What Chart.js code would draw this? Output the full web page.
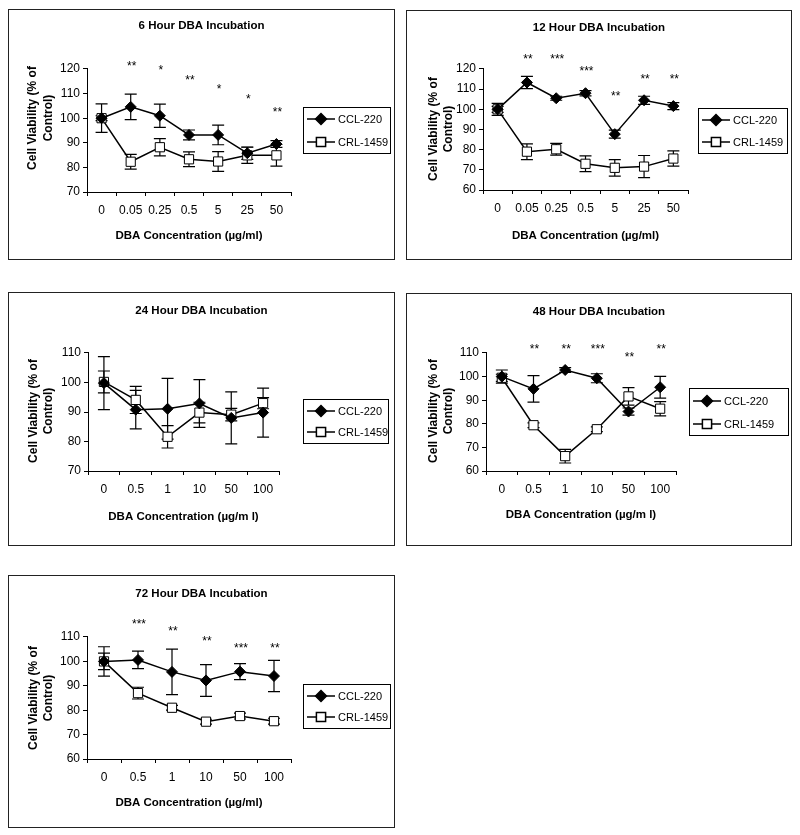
<!DOCTYPE html>
<html>
<head>
<meta charset="utf-8">
<script src="https://cdn.jsdelivr.net/npm/chart.js@4.4.0/dist/chart.umd.min.js"></script>
<style>
  body { margin: 0; background: #fff; width: 800px; height: 835px; position: relative; overflow: hidden; }
  .panel { position: absolute; border: 1px solid #222; background: #fff; }
  .panel canvas { display: block; }
</style>
</head>
<body>
<div class="panel" id="p6"><canvas id="c6"></canvas></div>
<div class="panel" id="p12"><canvas id="c12"></canvas></div>
<div class="panel" id="p24"><canvas id="c24"></canvas></div>
<div class="panel" id="p48"><canvas id="c48"></canvas></div>
<div class="panel" id="p72"><canvas id="c72"></canvas></div>
<script>
const FONT = "'Liberation Sans', Arial, sans-serif";
const seriesNames = ['CCL-220', 'CRL-1459'];
const yTitle = ['Cell Viability (% of', 'Control)'];

// 6 hour
const doses6 = ['0', '0.05', '0.25', '0.5', '5', '25', '50'];
const ccl6 = [100, 104.6, 101.0, 93.2, 93.2, 85.8, 89.5];
const ccl6Err = [5.8, 5.2, 4.7, 2.0, 4.0, 2.5, 1.4];
const crl6 = [100, 82.3, 88.2, 83.3, 82.4, 84.9, 84.9];
const crl6Err = [1.0, 3.0, 3.5, 3.0, 4.0, 3.3, 4.4];
const stars6 = ['', '**', '*', '**', '*', '*', '**'];
const stars6Y = [null, 121.3, 119.9, 115.9, 112.0, 107.9, 102.9];

// 12 hour
const doses12 = ['0', '0.05', '0.25', '0.5', '5', '25', '50'];
const ccl12 = [100, 113.3, 105.5, 108.0, 87.7, 104.5, 101.6];
const ccl12Err = [3.0, 3.0, 1.0, 1.3, 2.0, 2.0, 1.7];
const crl12 = [100, 79.0, 80.2, 73.0, 71.0, 71.6, 75.6];
const crl12Err = [1.5, 3.9, 2.9, 3.9, 4.1, 5.5, 3.8];
const stars12 = ['', '**', '***', '***', '**', '**', '**'];
const stars12Y = [null, 125.4, 125.4, 119.3, 106.8, 115.2, 115.2];

// 24 hour
const doses24 = ['0', '0.5', '1', '10', '50', '100'];
const ccl24 = [99.8, 90.8, 91.1, 92.9, 88.0, 89.8];
const ccl24Err = [9.0, 6.5, 10.3, 8.1, 8.8, 8.3];
const crl24 = [100.2, 94.1, 81.6, 89.8, 89.1, 93.0];
const crl24Err = [3.7, 4.6, 3.8, 3.5, 2.1, 1.9];
const stars24 = ['', '', '', '', '', ''];
const stars24Y = [null, null, null, null, null, null];

// 48 hour
const doses48 = ['0', '0.5', '1', '10', '50', '100'];
const ccl48 = [100, 94.8, 102.8, 99.3, 85.2, 95.5];
const ccl48Err = [2.8, 5.6, 1.0, 1.9, 1.5, 4.6];
const crl48 = [99.5, 79.4, 66.3, 77.7, 91.6, 86.4];
const crl48Err = [1.5, 1.0, 2.9, 1.0, 3.7, 3.0];
const stars48 = ['', '**', '**', '***', '**', '**'];
const stars48Y = [null, 112.0, 112.0, 112.0, 108.4, 112.0];

// 72 hour
const doses72 = ['0', '0.5', '1', '10', '50', '100'];
const ccl72 = [100, 100.6, 95.7, 92.2, 95.8, 94.0];
const ccl72Err = [6.0, 3.6, 9.3, 6.5, 3.3, 6.4];
const crl72 = [100, 87.0, 81.0, 75.3, 77.6, 75.5];
const crl72Err = [3.4, 2.4, 1.0, 1.0, 1.2, 1.2];
const stars72 = ['', '***', '**', '**', '***', '**'];
const stars72Y = [null, 115.4, 112.5, 108.6, 105.9, 105.9];

// draws error bars, significance stars, the y title and the boxed legend
const panelExtras = {
  id: 'panelExtras',
  beforeDatasetsDraw(chart, args, opts) {
    const ctx = chart.ctx, y = chart.scales.y;
    ctx.save();
    ctx.strokeStyle = '#000';
    ctx.lineWidth = 1.2;
    chart.data.datasets.forEach((ds, i) => {
      chart.getDatasetMeta(i).data.forEach((pt, j) => {
        const e = ds.err[j];
        const top = y.getPixelForValue(ds.data[j] + e);
        const bot = y.getPixelForValue(ds.data[j] - e);
        ctx.beginPath();
        ctx.moveTo(pt.x, top); ctx.lineTo(pt.x, bot);
        ctx.moveTo(pt.x - 6, top); ctx.lineTo(pt.x + 6, top);
        ctx.moveTo(pt.x - 6, bot); ctx.lineTo(pt.x + 6, bot);
        ctx.stroke();
      });
    });
    ctx.restore();
  },
  afterDraw(chart, args, opts) {
    const ctx = chart.ctx, x = chart.scales.x, y = chart.scales.y;
    ctx.save();
    ctx.fillStyle = '#000';
    // stars
    ctx.font = '12px ' + FONT;
    ctx.textAlign = 'center';
    ctx.textBaseline = 'alphabetic';
    opts.stars.forEach((s, i) => {
      if (!s) return;
      ctx.fillText(s, x.getPixelForValue(i) + 1, y.getPixelForValue(opts.starsY[i]) + 4.5);
    });
    // y title
    ctx.font = 'bold 12px ' + FONT;
    ctx.textBaseline = 'middle';
    opts.yTitleX.forEach((tx, i) => {
      ctx.save();
      ctx.translate(tx, opts.yTitleY);
      ctx.rotate(-Math.PI / 2);
      ctx.fillText(yTitle[i], 0, 0);
      ctx.restore();
    });
    // legend
    const lg = opts.legend;
    ctx.strokeStyle = '#000';
    ctx.lineWidth = 1;
    ctx.strokeRect(lg[0] + 0.5, lg[1] + 0.5, lg[2], lg[3]);
    ctx.font = '11px ' + FONT;
    ctx.textAlign = 'left';
    chart.data.datasets.forEach((ds, i) => {
      const ly = Math.round(lg[1] + lg[3] * (i === 0 ? 0.27 : 0.76));
      ctx.lineWidth = 1.5;
      ctx.beginPath();
      ctx.moveTo(lg[0] + 4, ly); ctx.lineTo(lg[0] + 32, ly);
      ctx.stroke();
      ctx.fillStyle = ds.pointBackgroundColor;
      ctx.strokeStyle = '#000';
      Chart.helpers.drawPoint(ctx, {pointStyle: ds.pointStyle, radius: ds.pointRadius, rotation: 0, borderWidth: 1}, lg[0] + 18, ly);
      ctx.fillStyle = '#000';
      ctx.fillText(ds.label, lg[0] + 35, ly + 1);
    });
    ctx.restore();
  }
};

const layouts = {
  c6:  {box: [8, 9, 385, 249],   area: [78, 59, 282, 182], titleY: 16, xTitleY: 226, tickPad: 7, yTitleX: [24, 40], yTitleY: 108, legend: [294, 97, 87, 46]},
  c12: {box: [406, 10, 384, 248], area: [76, 58, 281, 179], titleY: 17, xTitleY: 225, tickPad: 7, yTitleX: [27, 42], yTitleY: 118, legend: [291, 97, 89, 45]},
  c24: {box: [8, 292, 385, 252],  area: [79, 60, 270, 178], titleY: 18, xTitleY: 224, tickPad: 7, yTitleX: [25, 40], yTitleY: 118, legend: [294, 106, 85, 44]},
  c48: {box: [406, 293, 384, 251], area: [79, 59, 269, 177], titleY: 18, xTitleY: 221, tickPad: 7, yTitleX: [27, 42], yTitleY: 117, legend: [282, 94, 99, 47]},
  c72: {box: [8, 575, 385, 251],  area: [78, 61, 282, 183], titleY: 18, xTitleY: 227, tickPad: 7, yTitleX: [25, 40], yTitleY: 122, legend: [294, 108, 87, 44]}
};

function makeChart(id, title, xTitle, labels, ccl, cclErr, crl, crlErr, stars, starsY, yMin, yMax) {
  const L = layouts[id];
  const canvas = document.getElementById(id);
  const box = canvas.parentNode;
  box.style.left = L.box[0] + 'px';
  box.style.top = L.box[1] + 'px';
  canvas.width = L.box[2];
  canvas.height = L.box[3];
  const W = L.box[2], H = L.box[3];
  const titlePadTop = L.titleY - 6.9;

  return new Chart(canvas, {
    type: 'line',
    data: {
      labels: labels,
      datasets: [{
        label: seriesNames[0], data: ccl, err: cclErr,
        borderColor: '#000', borderWidth: 1.5, tension: 0,
        pointStyle: 'rectRot', pointRadius: 5.5,
        pointBackgroundColor: '#000', pointBorderColor: '#000', pointBorderWidth: 1
      }, {
        label: seriesNames[1], data: crl, err: crlErr,
        borderColor: '#000', borderWidth: 1.5, tension: 0,
        pointStyle: 'rect', pointRadius: 6.5,
        pointBackgroundColor: '#fff', pointBorderColor: '#000', pointBorderWidth: 1
      }]
    },
    options: {
      responsive: false,
      animation: false,
      layout: {padding: 0},
      plugins: {
        legend: {display: false},
        tooltip: {enabled: false},
        title: {
          display: true, text: title, color: '#000',
          font: {family: FONT, size: 11.5, weight: 'bold'},
          padding: {top: titlePadTop, bottom: L.area[1] - titlePadTop - 13.8}
        },
        panelExtras: {stars: stars, starsY: starsY, yTitleX: L.yTitleX, yTitleY: L.yTitleY, legend: L.legend}
      },
      scales: {
        x: {
          offset: true,
          grid: {drawOnChartArea: false, offset: true, tickLength: 4, color: '#000'},
          border: {color: '#000', width: 1},
          ticks: {color: '#000', font: {family: FONT, size: 12}, padding: L.tickPad, maxRotation: 0},
          title: {
            display: true, text: xTitle, color: '#000',
            font: {family: FONT, size: 11.5, weight: 'bold'},
            padding: {top: 0, bottom: H - L.xTitleY - 6.9}
          },
          afterFit: s => { s.height = H - L.area[3]; }
        },
        y: {
          min: yMin, max: yMax,
          grid: {drawOnChartArea: false, tickLength: 4, color: '#000'},
          border: {color: '#000', width: 1},
          ticks: {stepSize: 10, color: '#000', font: {family: FONT, size: 12}, padding: 3},
          afterFit: s => { s.width = L.area[0]; }
        },
        // empty right-hand scale that reserves the room where the legend sits
        legendRoom: {
          position: 'right', display: true,
          grid: {display: false}, border: {display: false}, ticks: {display: false},
          afterFit: s => { s.width = W - L.area[2]; }
        }
      }
    },
    plugins: [panelExtras]
  });
}

makeChart('c6', '6 Hour DBA Incubation', 'DBA Concentration (µg/ml)', doses6, ccl6, ccl6Err, crl6, crl6Err, stars6, stars6Y, 70, 120);
makeChart('c12', '12 Hour DBA Incubation', 'DBA Concentration (µg/ml)', doses12, ccl12, ccl12Err, crl12, crl12Err, stars12, stars12Y, 60, 120);
makeChart('c24', '24 Hour DBA Incubation', 'DBA Concentration (µg/m l)', doses24, ccl24, ccl24Err, crl24, crl24Err, stars24, stars24Y, 70, 110);
makeChart('c48', '48 Hour DBA Incubation', 'DBA Concentration (µg/m l)', doses48, ccl48, ccl48Err, crl48, crl48Err, stars48, stars48Y, 60, 110);
makeChart('c72', '72 Hour DBA Incubation', 'DBA Concentration (µg/ml)', doses72, ccl72, ccl72Err, crl72, crl72Err, stars72, stars72Y, 60, 110);
</script>
</body>
</html>
